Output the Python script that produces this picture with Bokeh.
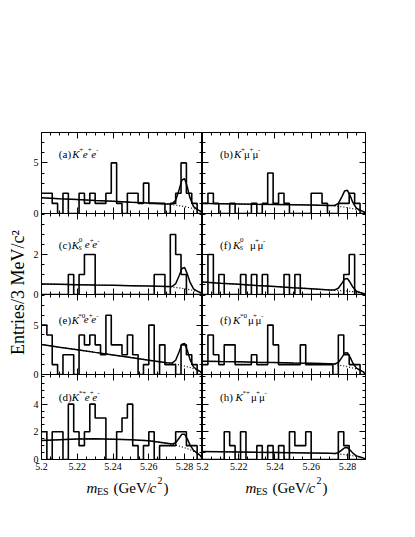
import numpy as np
from bokeh.plotting import figure
from bokeh.models import Range1d, FixedTicker, LinearAxis, Label
from bokeh.layouts import row, column
from bokeh.embed import file_html
from bokeh.resources import INLINE
from bokeh.core.properties import value

FONT = "Liberation Serif"

# ------------------------------------------------------------------ data
mes_lo, mes_hi, bin_width = 5.2, 5.29, 0.003
x_ticks = [5.2, 5.22, 5.24, 5.26, 5.28]
x_tick_labels = ["5.2", "5.22", "5.24", "5.26", "5.28"]

# entries per 3 MeV bin (30 bins, 5.200 - 5.290 GeV)
counts_a = [2, 2, 1, 0, 2, 0, 0, 2, 1, 2, 1, 1, 2, 5, 1, 0, 2, 2, 1, 3, 1, 1, 1, 0, 1, 2, 5, 2, 1, 0]
counts_b = [1, 2, 1, 0, 0, 1, 0, 0, 0, 1, 0, 1, 4, 1, 2, 1, 0, 0, 0, 0, 2, 2, 1, 0, 0, 1, 1, 2, 1, 0]
counts_c = [0, 0, 0, 0, 0, 1, 0, 1, 2, 2, 0, 0, 0, 0, 0, 0, 0, 0, 0, 0, 0, 1, 1, 0, 3, 2, 1, 0, 0, 0]
counts_f1 = [0, 2, 0, 1, 0, 0, 0, 1, 0, 1, 0, 1, 0, 0, 0, 1, 0, 1, 0, 0, 0, 0, 0, 0, 0, 0, 1, 2, 0, 0]
counts_e = [5, 4, 1, 0, 2, 2, 0, 4, 3, 4, 3, 2, 6, 3, 3, 2, 4, 2, 0, 1, 5, 0, 3, 1, 1, 0, 3, 2, 1, 0]
counts_f2 = [1, 4, 2, 1, 3, 3, 1, 1, 1, 2, 1, 1, 5, 3, 1, 1, 1, 1, 3, 1, 1, 1, 1, 1, 0, 4, 2, 1, 1, 0]
counts_d = [2, 0, 2, 2, 0, 4, 2, 1, 2, 4, 3, 3, 0, 0, 2, 3, 4, 1, 0, 1, 2, 0, 1, 1, 1, 2, 2, 1, 1, 0]
counts_h = [0, 0, 0, 0, 2, 1, 0, 2, 0, 0, 1, 0, 1, 0, 1, 0, 2, 1, 1, 2, 0, 0, 0, 0, 0, 2, 1, 0, 0, 0]

# fit curves (total fit = solid, background = dotted)
fit_x = [5.200, 5.210, 5.220, 5.230, 5.240, 5.250, 5.260, 5.270, 5.273, 5.275,
         5.277, 5.2785, 5.280, 5.2815, 5.283, 5.285, 5.287, 5.289, 5.290]
fit_a = [1.55, 1.46, 1.38, 1.29, 1.21, 1.12, 1.04, 0.95, 0.95, 1.31, 2.40, 3.31, 3.43, 2.62, 1.55, 0.67, 0.40, 0.21, 0.0]
bkg_a = [1.55, 1.46, 1.38, 1.29, 1.21, 1.12, 1.04, 0.95, 0.88, 0.84, 0.78, 0.73, 0.68, 0.63, 0.57, 0.48, 0.37, 0.21, 0.0]
fit_b = [1.0, 0.97, 0.94, 0.91, 0.89, 0.86, 0.83, 0.80, 0.79, 1.00, 1.67, 2.23, 2.29, 1.77, 1.09, 0.52, 0.33, 0.18, 0.0]
bkg_b = [1.0, 0.97, 0.94, 0.91, 0.89, 0.86, 0.83, 0.80, 0.74, 0.70, 0.66, 0.62, 0.58, 0.53, 0.48, 0.40, 0.31, 0.18, 0.0]
fit_c = [0.53, 0.51, 0.49, 0.47, 0.46, 0.44, 0.42, 0.40, 0.40, 0.54, 0.95, 1.30, 1.35, 1.03, 0.62, 0.28, 0.17, 0.09, 0.0]
bkg_c = [0.53, 0.51, 0.49, 0.47, 0.46, 0.44, 0.42, 0.40, 0.37, 0.35, 0.33, 0.31, 0.29, 0.26, 0.24, 0.20, 0.16, 0.09, 0.0]
fit_f1 = [0.62, 0.56, 0.51, 0.45, 0.40, 0.34, 0.29, 0.23, 0.23, 0.31, 0.57, 0.78, 0.80, 0.61, 0.37, 0.16, 0.10, 0.05, 0.0]
bkg_f1 = [0.62, 0.56, 0.51, 0.45, 0.40, 0.34, 0.29, 0.23, 0.21, 0.20, 0.19, 0.18, 0.17, 0.15, 0.14, 0.12, 0.09, 0.05, 0.0]
fit_e = [3.04, 2.77, 2.51, 2.24, 1.98, 1.71, 1.45, 1.18, 1.16, 1.44, 2.33, 3.07, 3.15, 2.45, 1.53, 0.76, 0.48, 0.26, 0.0]
bkg_e = [3.04, 2.77, 2.51, 2.24, 1.98, 1.71, 1.45, 1.18, 1.10, 1.04, 0.97, 0.91, 0.85, 0.78, 0.71, 0.59, 0.46, 0.26, 0.0]
fit_f2 = [1.35, 1.31, 1.28, 1.24, 1.21, 1.17, 1.14, 1.10, 1.06, 1.22, 1.74, 2.18, 2.21, 1.76, 1.17, 0.65, 0.44, 0.24, 0.0]
bkg_f2 = [1.35, 1.31, 1.28, 1.24, 1.21, 1.17, 1.14, 1.10, 1.02, 0.97, 0.90, 0.85, 0.79, 0.73, 0.66, 0.55, 0.43, 0.24, 0.0]
fit_d = [1.37, 1.43, 1.48, 1.49, 1.47, 1.43, 1.36, 1.18, 1.12, 1.21, 1.55, 1.83, 1.83, 1.49, 1.06, 0.66, 0.47, 0.26, 0.0]
bkg_d = [1.37, 1.43, 1.48, 1.49, 1.47, 1.43, 1.36, 1.18, 1.10, 1.04, 0.97, 0.91, 0.85, 0.78, 0.71, 0.59, 0.46, 0.26, 0.0]
fit_h = [0.58, 0.56, 0.54, 0.52, 0.51, 0.49, 0.47, 0.45, 0.43, 0.49, 0.69, 0.85, 0.86, 0.69, 0.46, 0.26, 0.18, 0.10, 0.0]
bkg_h = [0.58, 0.56, 0.54, 0.52, 0.51, 0.49, 0.47, 0.45, 0.42, 0.40, 0.37, 0.35, 0.32, 0.30, 0.27, 0.23, 0.18, 0.10, 0.0]

# per row y axes (labelled major ticks, minor step)
row_ymax = [8.0, 4.05, 8.1, 6.14]
row_yticks = [[0, 5], [0, 2], [0, 5], [0, 2, 4]]
row_ytick_labels = [["0", "5"], ["0", "2"], ["0", "5"], ["0", "2", "4"]]
row_yminor = [1.0, 0.5, 1.0, 0.5]

y_title = "Entries/3 MeV/c\u00b2"

# panel titles: (text, dx px, dy px, size px, style)
lbl_a = [("(a)", 0, 0, 11, "normal"), ("K", 13.5, 0, 11, "italic"), ("+", 20.5, 4, 7, "normal"),
         ("e", 24, 0, 11, "italic"), ("+", 29, 4, 7, "normal"), ("e", 32.5, 0, 11, "italic"),
         ("-", 37.5, 4, 7, "normal")]
lbl_b = [("(b)", 0, 0, 11, "normal"), ("K", 14, 0, 11, "italic"), ("+", 21, 4, 7, "normal"),
         ("\u03bc", 24, 0, 11, "normal"), ("+", 29.5, 4, 7, "normal"), ("\u03bc", 32.5, 0, 11, "normal"),
         ("-", 38, 4, 7, "normal")]
lbl_c = [("(c)", 0, 0, 11, "normal"), ("K", 13, 0, 11, "italic"), ("S", 19.5, -3, 7, "italic"),
         ("0", 20, 5, 7, "normal"), ("e", 26, 0, 11, "italic"), ("+", 31, 4, 7, "normal"),
         ("e", 33.5, 0, 11, "italic"), ("-", 38.5, 4, 7, "normal")]
lbl_f1 = [("(f)", 0, 0, 11, "normal"), ("K", 13, 0, 11, "italic"), ("S", 19.5, -3, 7, "italic"),
          ("0", 20, 5, 7, "normal"), ("\u03bc", 30, 0, 11, "normal"), ("+", 35, 4, 7, "normal"),
          ("\u03bc", 37.5, 0, 11, "normal"), ("-", 43, 4, 7, "normal")]
lbl_e = [("(e)", 0, 0, 11, "normal"), ("K", 13, 0, 11, "italic"), ("*0", 19.5, 4, 7, "normal"),
         ("e", 25, 0, 11, "italic"), ("+", 30, 4, 7, "normal"), ("e", 32.5, 0, 11, "italic"),
         ("-", 37.5, 4, 7, "normal")]
lbl_f2 = [("(f)", 0, 0, 11, "normal"), ("K", 13, 0, 11, "italic"), ("*0", 20, 4, 7, "normal"),
          ("\u03bc", 28, 0, 11, "normal"), ("+", 33, 4, 7, "normal"), ("\u03bc", 35.5, 0, 11, "normal"),
          ("-", 41, 4, 7, "normal")]
lbl_d = [("(d)", 0, 0, 11, "normal"), ("K", 13, 0, 11, "italic"), ("*+", 20, 4, 7, "normal"),
         ("e", 26, 0, 11, "italic"), ("+", 31, 4, 7, "normal"), ("e", 33.5, 0, 11, "italic"),
         ("-", 38.5, 4, 7, "normal")]
lbl_h = [("(h)", 0, 0, 11, "normal"), ("K", 15.5, 0, 11, "italic"), ("*+", 22.5, 4, 7, "normal"),
         ("\u03bc", 31, 0, 11, "normal"), ("+", 36, 4, 7, "normal"), ("\u03bc", 39, 0, 11, "normal"),
         ("-", 44.5, 4, 7, "normal")]

# x title pieces: (text, x px from title start, baseline shift px (down +), size px, style)
x_title = [("m", 0, 0, 15, "italic"), ("ES", 10.5, 4, 10, "normal"), ("(GeV/", 27, 0, 15, "normal"),
           ("c", 63, 0, 15, "italic"), ("2", 71, -7, 10, "normal"), (")", 77, 0, 15, "normal")]

grid_spec = [
    [(counts_a, fit_a, bkg_a, lbl_a), (counts_b, fit_b, bkg_b, lbl_b)],
    [(counts_c, fit_c, bkg_c, lbl_c), (counts_f1, fit_f1, bkg_f1, lbl_f1)],
    [(counts_e, fit_e, bkg_e, lbl_e), (counts_f2, fit_f2, bkg_f2, lbl_f2)],
    [(counts_d, fit_d, bkg_d, lbl_d), (counts_h, fit_h, bkg_h, lbl_h)],
]

# ------------------------------------------------------------------ layout
FRAME_W = [161, 163]
FRAME_H = [81, 81, 80, 85]
LEFT_PAD, RIGHT_PAD, TOP_PAD, BOTTOM_PAD, YLAB_W = 15, 3, 132, 18, 26
YLAB_OVER = 10  # the y-title strip reaches into the left border of the panels
OVER_B = 8      # bottom overflow of a row into the next one (transparent)
OVER_L = 10     # left overflow of the right column into the left one
XT_OVER = 8     # the x-title strip reaches up into the bottom row's border
XT_H = 36
row_label_y = [5.87, 2.5, 5.55, 4.5]
label_x = 5.2097

edges = list(np.round(mes_lo + bin_width * np.arange(31), 4))


def style_axis(ax, ticker, labels=None):
    ax.ticker = ticker
    ax.axis_line_color = None
    ax.major_tick_in = 6
    ax.major_tick_out = 0
    ax.minor_tick_in = 3
    ax.minor_tick_out = 0
    ax.major_tick_line_color = "black"
    ax.minor_tick_line_color = "black"
    if labels is not None:
        ax.major_label_text_font = FONT
        ax.major_label_text_font_size = "10px"
        ax.major_label_text_color = "black"
        ax.major_label_standoff = 3
        ax.major_label_overrides = labels
    else:
        ax.major_label_text_font_size = "0px"
        ax.major_label_text_color = None
        ax.major_label_standoff = 0


def add_pieces(p, x, y, pieces):
    for txt, dx, dy, size, style in pieces:
        p.add_layout(Label(x=x, y=y, x_offset=dx, y_offset=dy, text=txt,
                           text_font=FONT, text_font_size=f"{size}px",
                           text_font_style=style, text_color="black",
                           text_baseline="alphabetic"))


def make_panel(ri, ci, counts, fit, bkg, pieces):
    is_left = ci == 0
    is_top = ri == 0
    is_bottom = ri == 3
    bl = LEFT_PAD if is_left else OVER_L
    br = 0 if is_left else RIGHT_PAD
    bt = TOP_PAD if is_top else 0
    bb = BOTTOM_PAD if is_bottom else OVER_B
    ymax = row_ymax[ri]
    p = figure(width=FRAME_W[ci] + bl + br, height=FRAME_H[ri] + bt + bb,
               x_range=Range1d(mes_lo, mes_hi), y_range=Range1d(0, ymax),
               output_backend="svg", toolbar_location=None,
               min_border_left=bl, min_border_right=br,
               min_border_top=bt, min_border_bottom=bb)
    p.margin = (0 if is_top else -OVER_B, 0, 0, 0 if is_left else -OVER_L)
    p.grid.visible = False
    p.outline_line_color = "black"
    p.outline_line_width = 1
    p.background_fill_color = None
    p.border_fill_color = None

    xminor = list(np.round(np.arange(mes_lo, mes_hi + 1e-9, 0.005), 4))
    yt = row_yticks[ri]
    step = row_yminor[ri]
    yminor = list(np.round(np.arange(0, ymax + 1e-9, step), 3))

    def xt():
        return FixedTicker(ticks=x_ticks, minor_ticks=xminor)

    def ytk():
        return FixedTicker(ticks=yt, minor_ticks=yminor)

    style_axis(p.xaxis[0], xt(),
               dict(zip(x_ticks, x_tick_labels)) if is_bottom else None)
    style_axis(p.yaxis[0], ytk(),
               dict(zip(yt, row_ytick_labels[ri])) if is_left else None)
    top = LinearAxis()
    style_axis(top, xt())
    p.add_layout(top, "above")
    right = LinearAxis()
    style_axis(right, ytk())
    p.add_layout(right, "right")

    p.line(fit_x, bkg, line_color="black", line_width=1.2, line_dash="1 2")
    p.step(edges, list(counts) + [counts[-1]], mode="after",
           line_color="black", line_width=1.6)
    p.line(fit_x, fit, line_color="black", line_width=1.5)

    add_pieces(p, label_x, row_label_y[ri], pieces)
    return p


rows = []
for ri, spec in enumerate(grid_spec):
    figs = [make_panel(ri, ci, *s) for ci, s in enumerate(spec)]
    rows.append(row(*figs, spacing=0))

# x titles strip (page pixel coordinates)
strip_w = LEFT_PAD + FRAME_W[0] + FRAME_W[1] + RIGHT_PAD
x0 = YLAB_W
xs = figure(width=strip_w, height=XT_H, x_range=Range1d(x0, x0 + strip_w),
            y_range=Range1d(XT_H, 0), x_axis_location=None, y_axis_location=None,
            toolbar_location=None, output_backend="svg", min_border=0)
xs.margin = (-XT_OVER, 0, 0, 0)
xs.outline_line_color = None
xs.background_fill_color = None
xs.border_fill_color = None
xs.xgrid.visible = False
xs.ygrid.visible = False
title_base = 10 + XT_OVER
for start in (86, 245):
    for txt, dx, dy, size, style in x_title:
        xs.text(x=[start + dx], y=[title_base + dy], text=[txt], text_align="left",
                text_baseline="alphabetic", text_font=value(FONT),
                text_font_size=f"{size}px", text_font_style=style, text_color="black")

grid = column(*rows, xs, spacing=0)
grid.margin = (0, 0, 0, -YLAB_OVER)

total_h = TOP_PAD + sum(FRAME_H) + BOTTOM_PAD + XT_H - XT_OVER
ylw = YLAB_W + YLAB_OVER
ylab = figure(width=ylw, height=total_h, x_range=Range1d(0, ylw),
              y_range=Range1d(total_h, 0), x_axis_location=None, y_axis_location=None,
              toolbar_location=None, output_backend="svg", min_border=0)
ylab.outline_line_color = None
ylab.background_fill_color = None
ylab.border_fill_color = None
ylab.xgrid.visible = False
ylab.ygrid.visible = False
ylab.text(x=[17.5], y=[292], text=[y_title], angle=np.pi / 2, text_align="center",
          text_baseline="middle", text_font=value(FONT), text_font_size="18px",
          text_color="black")

page = row(ylab, grid, spacing=0)
open("out.html", "w").write(file_html(page, INLINE))
